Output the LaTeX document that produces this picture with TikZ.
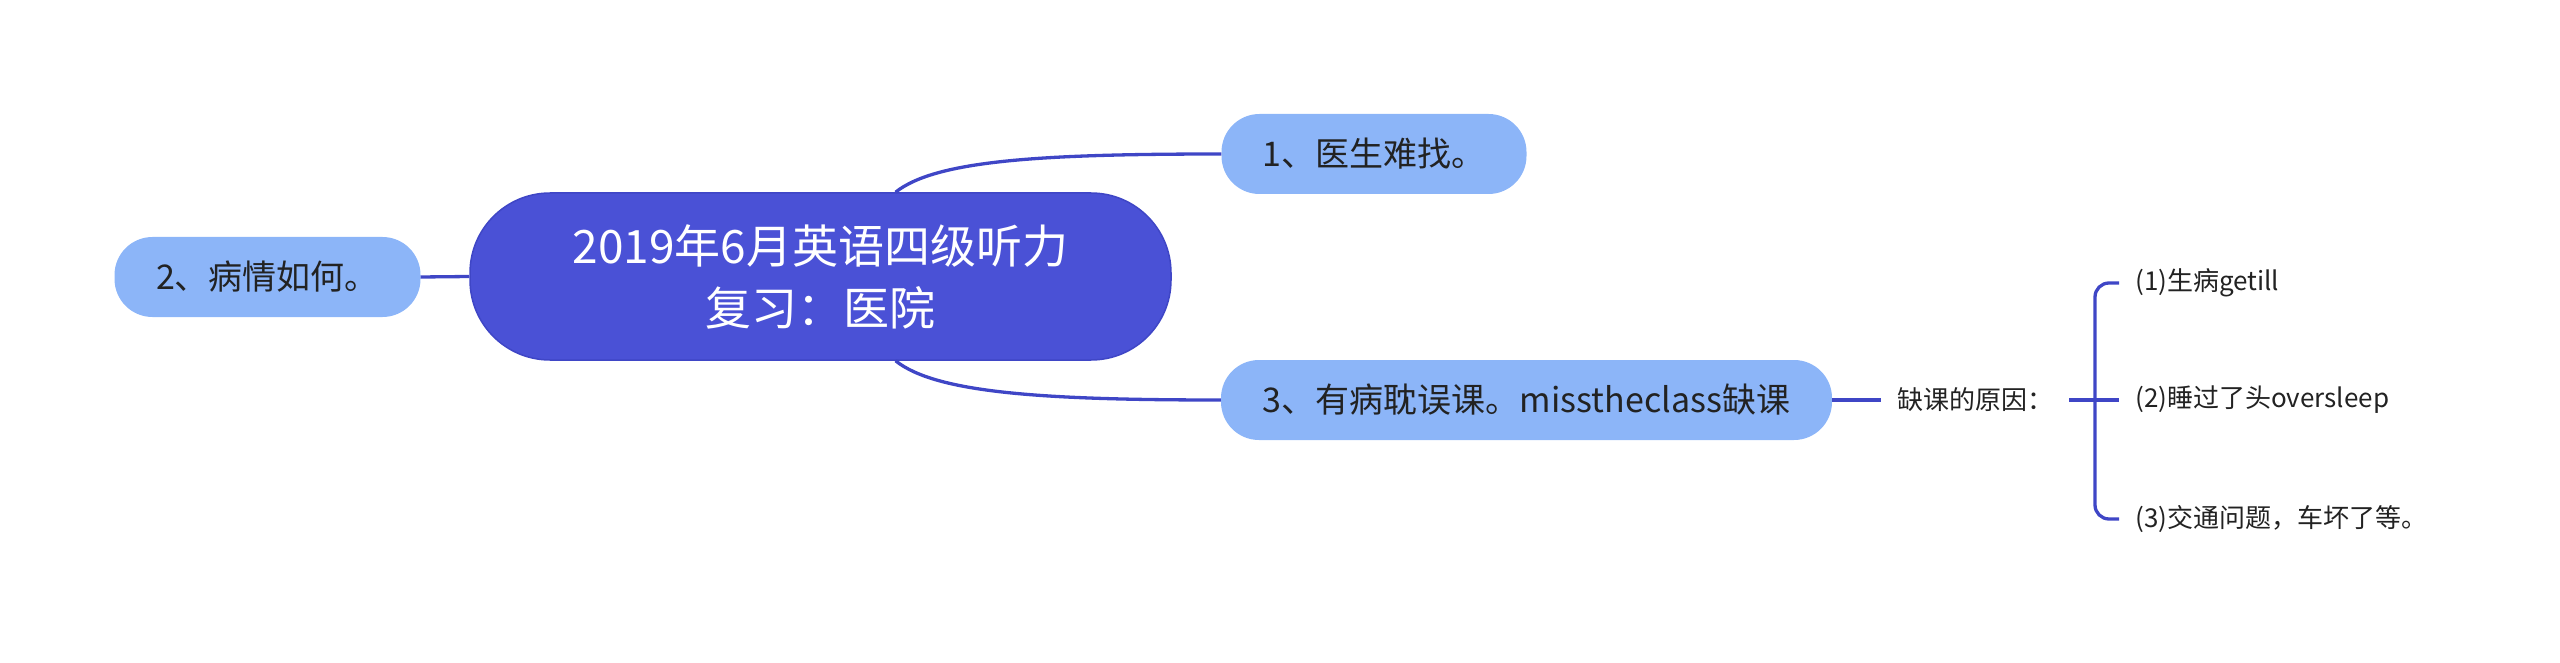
\documentclass[tikz,border=0pt]{standalone}
\usepackage{fontspec}
\setmainfont{Noto Sans CJK SC}
\usetikzlibrary{positioning}
\definecolor{mmcenter}{HTML}{4A51D6}
\definecolor{mmtopic}{HTML}{8CB5F8}
\definecolor{mmline}{HTML}{3F46C6}
\definecolor{mmtext}{HTML}{222222}

\begin{document}
\begin{tikzpicture}[
      x=1pt, y=-1pt,
      root/.style={draw=mmline, line width=1.5pt, fill=mmcenter, text=white,
                   rounded corners=80pt, minimum width=701pt, minimum height=167pt,
                   align=center, font=\fontsize{46}{62}\selectfont},
      topic/.style={fill=mmtopic, text=mmtext, rounded corners=38pt,
                    minimum height=80pt, inner xsep=0pt,
                    font=\fontsize{34}{40}\selectfont},
      leaf/.style={text=mmtext, inner xsep=16pt, inner ysep=4pt,
                   font=\fontsize{26}{32}\selectfont},
      link/.style={draw=mmline, line width=3.3pt},
    ]
    \useasboundingbox (0,0) rectangle (2560,663);

    \node[root]                       (cen) at (820.5, 276.5) {2019年6月英语四级听力\\复习：医院};
    \node[topic, minimum width=305pt] (t1)  at (1374, 154)    {1、医生难找。};
    \node[topic, minimum width=306pt] (t2)  at (267.5, 277)   {2、病情如何。};
    \node[topic, minimum width=611pt] (t3)  at (1526.5, 400)  {3、有病耽误课。misstheclass缺课};

    \node[leaf, anchor=west] (why) at (1881, 400) {缺课的原因：};
    \node[leaf, anchor=west] (c1)  at (2119, 283) {(1)生病getill};
    \node[leaf, anchor=west] (c2)  at (2119, 400) {(2)睡过了头oversleep};
    \node[leaf, anchor=west] (c3)  at (2119, 519) {(3)交通问题，车坏了等。};

    \draw[link] ([xshift=75pt]cen.north) .. controls +(40,-32) and +(-180,0) .. (t1.west);
    \draw[link] ([xshift=75pt]cen.south) .. controls +(40,32) and +(-180,0) .. (t3.west);
    \draw[link] (t2.east) -- (cen.west);
    \draw[link] (t3.east) -- (why.west);
    \draw[link] (why.east) -- (c2.west);
    \draw[link, rounded corners=14pt] (c1.west) -- ++(-24,0) |- (c3.west);
  \end{tikzpicture}
\end{document}
